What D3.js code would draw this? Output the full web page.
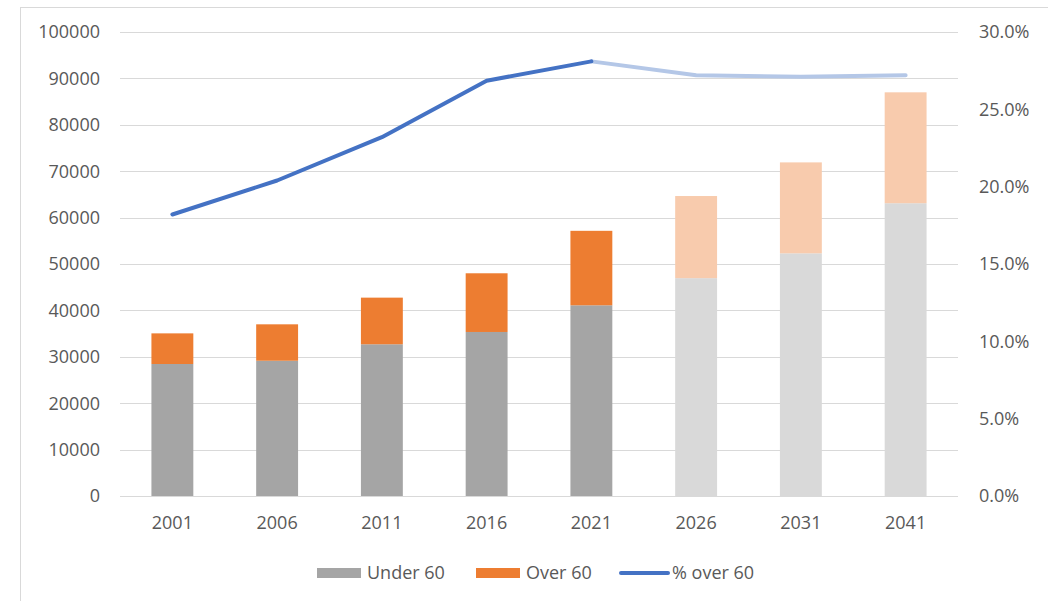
<!DOCTYPE html>
<html>
<head>
<meta charset="utf-8">
<script src="https://cdn.jsdelivr.net/npm/d3@7"></script>
<style>
  body { margin: 0; background: #fff; }
  svg text { font-family: "Open Sans", sans-serif; fill: #595959; font-size: 18px; }
</style>
</head>
<body>
<svg id="chart" width="1048" height="601"></svg>
<script>
// Population by age group, with share over 60 (2026 onward are projections)
const years = ["2001", "2006", "2011", "2016", "2021", "2026", "2031", "2041"];
const under60 = [28450, 29150, 32700, 35350, 41100, 46950, 52300, 63100];
const over60 = [6600, 7850, 10050, 12650, 16050, 17700, 19600, 23900];
const pctOver60 = [0.182, 0.204, 0.232, 0.2685, 0.281, 0.272, 0.271, 0.272];
const firstProjected = 5; // index of 2026

const leftTicks = [0, 10000, 20000, 30000, 40000, 50000, 60000, 70000, 80000, 90000, 100000];
const rightTicks = [0, 0.05, 0.10, 0.15, 0.20, 0.25, 0.30];

const COLORS = {
    under: "#a5a5a5", underProj: "#d9d9d9",
    over: "#ed7d31", overProj: "#f8cbad",
    line: "#4472c4", lineProj: "#b4c7e7",
    grid: "#d9d9d9"
};

const svg = d3.select("#chart");
const plot = { left: 120, right: 958, top: 32, bottom: 496 };

// chart frame (runs off the right and bottom of the capture)
svg.append("rect")
    .attr("x", 20.5).attr("y", 7.5)
    .attr("width", 1100).attr("height", 700)
    .attr("fill", "#fff")
    .attr("stroke", COLORS.grid);

const x = d3.scaleBand().domain(years).range([plot.left, plot.right]).paddingInner(0.6).paddingOuter(0.3);
const y = d3.scaleLinear().domain([0, 100000]).range([plot.bottom, plot.top]);
const y2 = d3.scaleLinear().domain([0, 0.30]).range([plot.bottom, plot.top]);

// gridlines
svg.append("g").selectAll("line")
    .data(leftTicks)
    .join("line")
    .attr("x1", plot.left).attr("x2", plot.right)
    .attr("y1", d => Math.round(y(d)) + 0.5).attr("y2", d => Math.round(y(d)) + 0.5)
    .attr("stroke", COLORS.grid)
    .attr("stroke-width", 1);

// left axis labels
svg.append("g").selectAll("text")
    .data(leftTicks)
    .join("text")
    .attr("x", 100).attr("y", d => y(d))
    .attr("dy", "0.35em")
    .attr("text-anchor", "end")
    .text(d => d);

// right axis labels
const pctFmt = d3.format(".1%");
svg.append("g").selectAll("text")
    .data(rightTicks)
    .join("text")
    .attr("x", 979).attr("y", d => y2(d))
    .attr("dy", "0.35em")
    .attr("text-anchor", "start")
    .text(d => pctFmt(d));

// x labels
svg.append("g").selectAll("text")
    .data(years)
    .join("text")
    .attr("x", d => x(d) + x.bandwidth() / 2)
    .attr("y", 523)
    .attr("dy", "0.35em")
    .attr("text-anchor", "middle")
    .text(d => d);

// stacked bars
const rows = years.map((yr, i) => ({ year: yr, under: under60[i], over: over60[i], proj: i >= firstProjected }));
const bars = svg.append("g");
bars.selectAll("rect.under")
    .data(rows)
    .join("rect")
    .attr("class", "under")
    .attr("x", d => x(d.year)).attr("width", x.bandwidth())
    .attr("y", d => y(d.under)).attr("height", d => y(0) - y(d.under))
    .attr("fill", d => d.proj ? COLORS.underProj : COLORS.under);
bars.selectAll("rect.over")
    .data(rows)
    .join("rect")
    .attr("class", "over")
    .attr("x", d => x(d.year)).attr("width", x.bandwidth())
    .attr("y", d => y(d.under + d.over)).attr("height", d => y(d.under) - y(d.under + d.over))
    .attr("fill", d => d.proj ? COLORS.overProj : COLORS.over);

// % over 60 line: actual part, then projected part in lighter blue
const pts = years.map((yr, i) => [x(yr) + x.bandwidth() / 2, y2(pctOver60[i])]);
const line = d3.line();
svg.append("path")
    .attr("d", line(pts.slice(firstProjected - 1)))
    .attr("fill", "none")
    .attr("stroke", COLORS.lineProj)
    .attr("stroke-width", 4)
    .attr("stroke-linecap", "round")
    .attr("stroke-linejoin", "round");
svg.append("path")
    .attr("d", line(pts.slice(0, firstProjected)))
    .attr("fill", "none")
    .attr("stroke", COLORS.line)
    .attr("stroke-width", 4)
    .attr("stroke-linecap", "round")
    .attr("stroke-linejoin", "round");

// legend
const legend = svg.append("g");
const legendY = 573;
legend.append("rect").attr("x", 317).attr("y", legendY - 5).attr("width", 44).attr("height", 10).attr("fill", COLORS.under);
legend.append("text").attr("x", 367).attr("y", legendY).attr("dy", "0.35em").text("Under 60");
legend.append("rect").attr("x", 476).attr("y", legendY - 5).attr("width", 44).attr("height", 10).attr("fill", COLORS.over);
legend.append("text").attr("x", 526).attr("y", legendY).attr("dy", "0.35em").text("Over 60");
legend.append("line").attr("x1", 621).attr("x2", 668).attr("y1", legendY).attr("y2", legendY)
    .attr("stroke", COLORS.line).attr("stroke-width", 4).attr("stroke-linecap", "round");
legend.append("text").attr("x", 672).attr("y", legendY).attr("dy", "0.35em").text("% over 60");
</script>
</body>
</html>
